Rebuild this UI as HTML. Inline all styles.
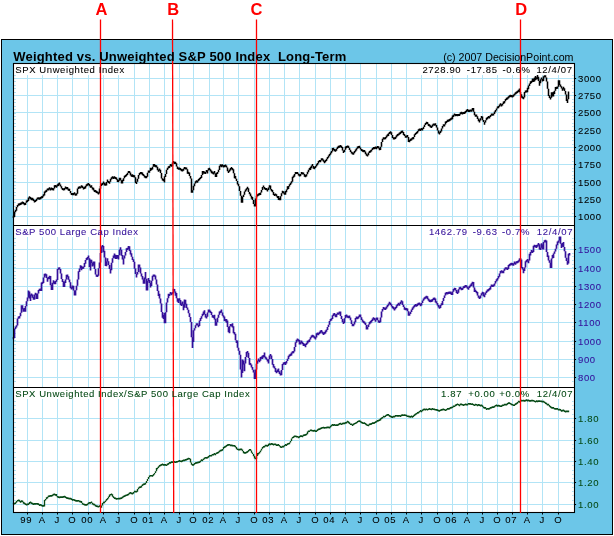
<!DOCTYPE html>
<html><head><meta charset="utf-8"><title>Weighted vs. Unweighted S&amp;P 500 Index Long-Term</title>
<style>
html,body{margin:0;padding:0;background:#fff;}
body{width:614px;height:536px;overflow:hidden;}
svg{display:block;will-change:transform;font-family:"Liberation Sans",Arial,sans-serif;}
.t{font-size:9.5px;letter-spacing:0.65px;stroke-width:0.08px;}
</style></head><body>
<svg width="614" height="536" viewBox="0 0 614 536">
<rect x="0" y="0" width="614" height="536" fill="#fff"/>
<rect x="1.5" y="39.5" width="611" height="495" fill="#6cc6e8" stroke="#000" stroke-width="1"/>
<rect x="13.5" y="63.5" width="561.0" height="449.0" fill="#fff"/>

<path d="M27.5 63.5V512.5M42.5 63.5V512.5M57.5 63.5V512.5M72.5 63.5V512.5M88.5 63.5V512.5M103.5 63.5V512.5M118.5 63.5V512.5M134.5 63.5V512.5M149.5 63.5V512.5M164.5 63.5V512.5M179.5 63.5V512.5M193.5 63.5V512.5M209.5 63.5V512.5M223.5 63.5V512.5M238.5 63.5V512.5M254.5 63.5V512.5M269.5 63.5V512.5M284.5 63.5V512.5M299.5 63.5V512.5M315.5 63.5V512.5M330.5 63.5V512.5M345.5 63.5V512.5M360.5 63.5V512.5M376.5 63.5V512.5M391.5 63.5V512.5M406.5 63.5V512.5M421.5 63.5V512.5M437.5 63.5V512.5M452.5 63.5V512.5M467.5 63.5V512.5M482.5 63.5V512.5M497.5 63.5V512.5M512.5 63.5V512.5M527.5 63.5V512.5M542.5 63.5V512.5M558.5 63.5V512.5M13.5 78.5H574.5M13.5 95.5H574.5M13.5 112.5H574.5M13.5 130.5H574.5M13.5 147.5H574.5M13.5 164.5H574.5M13.5 182.5H574.5M13.5 199.5H574.5M13.5 216.5H574.5M13.5 249.5H574.5M13.5 268.5H574.5M13.5 286.5H574.5M13.5 304.5H574.5M13.5 322.5H574.5M13.5 341.5H574.5M13.5 359.5H574.5M13.5 377.5H574.5M13.5 418.5H574.5M13.5 440.5H574.5M13.5 461.5H574.5M13.5 482.5H574.5M13.5 504.5H574.5" stroke="#b2e4f6" stroke-width="1" fill="none"/>
<path d="M14.0 68.5h2M572.0 68.5h1.6M14.0 71.5h2M572.0 71.5h1.6M14.0 75.5h2M572.0 75.5h1.6M14.0 78.5h2M572.0 78.5h1.6M14.0 81.5h2M572.0 81.5h1.6M14.0 85.5h2M572.0 85.5h1.6M14.0 88.5h2M572.0 88.5h1.6M14.0 92.5h2M572.0 92.5h1.6M14.0 95.5h2M572.0 95.5h1.6M14.0 99.5h2M572.0 99.5h1.6M14.0 102.5h2M572.0 102.5h1.6M14.0 106.5h2M572.0 106.5h1.6M14.0 109.5h2M572.0 109.5h1.6M14.0 113.5h2M572.0 113.5h1.6M14.0 116.5h2M572.0 116.5h1.6M14.0 119.5h2M572.0 119.5h1.6M14.0 123.5h2M572.0 123.5h1.6M14.0 126.5h2M572.0 126.5h1.6M14.0 130.5h2M572.0 130.5h1.6M14.0 133.5h2M572.0 133.5h1.6M14.0 137.5h2M572.0 137.5h1.6M14.0 140.5h2M572.0 140.5h1.6M14.0 144.5h2M572.0 144.5h1.6M14.0 147.5h2M572.0 147.5h1.6M14.0 150.5h2M572.0 150.5h1.6M14.0 154.5h2M572.0 154.5h1.6M14.0 157.5h2M572.0 157.5h1.6M14.0 161.5h2M572.0 161.5h1.6M14.0 164.5h2M572.0 164.5h1.6M14.0 168.5h2M572.0 168.5h1.6M14.0 171.5h2M572.0 171.5h1.6M14.0 175.5h2M572.0 175.5h1.6M14.0 178.5h2M572.0 178.5h1.6M14.0 181.5h2M572.0 181.5h1.6M14.0 185.5h2M572.0 185.5h1.6M14.0 188.5h2M572.0 188.5h1.6M14.0 192.5h2M572.0 192.5h1.6M14.0 195.5h2M572.0 195.5h1.6M14.0 199.5h2M572.0 199.5h1.6M14.0 202.5h2M572.0 202.5h1.6M14.0 206.5h2M572.0 206.5h1.6M14.0 209.5h2M572.0 209.5h1.6M14.0 213.5h2M572.0 213.5h1.6M14.0 216.5h2M572.0 216.5h1.6M14.0 227.5h2M572.0 227.5h1.6M14.0 231.5h2M572.0 231.5h1.6M14.0 234.5h2M572.0 234.5h1.6M14.0 238.5h2M572.0 238.5h1.6M14.0 242.5h2M572.0 242.5h1.6M14.0 245.5h2M572.0 245.5h1.6M14.0 249.5h2M572.0 249.5h1.6M14.0 253.5h2M572.0 253.5h1.6M14.0 256.5h2M572.0 256.5h1.6M14.0 260.5h2M572.0 260.5h1.6M14.0 264.5h2M572.0 264.5h1.6M14.0 267.5h2M572.0 267.5h1.6M14.0 271.5h2M572.0 271.5h1.6M14.0 275.5h2M572.0 275.5h1.6M14.0 278.5h2M572.0 278.5h1.6M14.0 282.5h2M572.0 282.5h1.6M14.0 286.5h2M572.0 286.5h1.6M14.0 289.5h2M572.0 289.5h1.6M14.0 293.5h2M572.0 293.5h1.6M14.0 297.5h2M572.0 297.5h1.6M14.0 300.5h2M572.0 300.5h1.6M14.0 304.5h2M572.0 304.5h1.6M14.0 308.5h2M572.0 308.5h1.6M14.0 311.5h2M572.0 311.5h1.6M14.0 315.5h2M572.0 315.5h1.6M14.0 318.5h2M572.0 318.5h1.6M14.0 322.5h2M572.0 322.5h1.6M14.0 326.5h2M572.0 326.5h1.6M14.0 329.5h2M572.0 329.5h1.6M14.0 333.5h2M572.0 333.5h1.6M14.0 337.5h2M572.0 337.5h1.6M14.0 340.5h2M572.0 340.5h1.6M14.0 344.5h2M572.0 344.5h1.6M14.0 348.5h2M572.0 348.5h1.6M14.0 351.5h2M572.0 351.5h1.6M14.0 355.5h2M572.0 355.5h1.6M14.0 359.5h2M572.0 359.5h1.6M14.0 362.5h2M572.0 362.5h1.6M14.0 366.5h2M572.0 366.5h1.6M14.0 370.5h2M572.0 370.5h1.6M14.0 373.5h2M572.0 373.5h1.6M14.0 377.5h2M572.0 377.5h1.6M14.0 381.5h2M572.0 381.5h1.6M14.0 392.5h2M572.0 392.5h1.6M14.0 396.5h2M572.0 396.5h1.6M14.0 401.5h2M572.0 401.5h1.6M14.0 405.5h2M572.0 405.5h1.6M14.0 409.5h2M572.0 409.5h1.6M14.0 414.5h2M572.0 414.5h1.6M14.0 418.5h2M572.0 418.5h1.6M14.0 422.5h2M572.0 422.5h1.6M14.0 427.5h2M572.0 427.5h1.6M14.0 431.5h2M572.0 431.5h1.6M14.0 435.5h2M572.0 435.5h1.6M14.0 440.5h2M572.0 440.5h1.6M14.0 444.5h2M572.0 444.5h1.6M14.0 448.5h2M572.0 448.5h1.6M14.0 452.5h2M572.0 452.5h1.6M14.0 457.5h2M572.0 457.5h1.6M14.0 461.5h2M572.0 461.5h1.6M14.0 465.5h2M572.0 465.5h1.6M14.0 470.5h2M572.0 470.5h1.6M14.0 474.5h2M572.0 474.5h1.6M14.0 478.5h2M572.0 478.5h1.6M14.0 483.5h2M572.0 483.5h1.6M14.0 487.5h2M572.0 487.5h1.6M14.0 491.5h2M572.0 491.5h1.6M14.0 495.5h2M572.0 495.5h1.6M14.0 500.5h2M572.0 500.5h1.6" stroke="#b2e4f6" stroke-width="1" fill="none"/>
<rect x="14" y="64" width="113" height="11" fill="#fff"/>
<rect x="421" y="64" width="153" height="11" fill="#fff"/>
<rect x="14" y="226" width="126" height="11" fill="#fff"/>
<rect x="429" y="226" width="145" height="11" fill="#fff"/>
<rect x="14" y="388" width="239" height="11" fill="#fff"/>
<rect x="440" y="388" width="134" height="11" fill="#fff"/>
<path d="M13.5 215.8V218.0M14.5 211.5V216.9M15.5 210.0V212.2M16.5 206.9V210.7M17.5 205.1V207.3M18.5 203.6V205.8M19.5 203.2V205.4M20.5 202.8V205.0M21.5 202.3V204.5M22.5 201.5V203.7M23.5 202.1V204.3M24.5 203.0V205.2M25.5 202.7V205.0M26.5 200.5V202.7M27.5 199.8V202.0M28.5 197.5V201.1M29.5 196.2V198.4M30.5 197.1V199.3M31.5 197.7V200.3M32.5 197.7V200.3M33.5 198.7V200.9M34.5 200.3V202.5M35.5 199.9V202.1M36.5 198.8V201.0M37.5 197.4V199.6M38.5 197.2V199.4M39.5 197.6V199.8M40.5 197.0V199.2M41.5 196.3V198.5M42.5 195.7V197.9M43.5 194.2V196.4M44.5 191.5V195.5M45.5 190.5V192.7M46.5 189.7V191.9M47.5 188.4V190.6M48.5 188.2V190.4M49.5 187.2V189.4M50.5 188.2V190.4M51.5 187.6V189.8M52.5 188.0V190.2M53.5 188.2V190.4M54.5 185.3V188.4M55.5 184.9V187.1M56.5 185.5V187.7M57.5 184.3V186.5M58.5 183.3V185.9M59.5 182.6V184.8M60.5 184.4V186.6M61.5 186.2V188.4M62.5 187.9V190.1M63.5 188.4V190.6M64.5 187.9V190.2M65.5 186.5V188.7M66.5 187.0V189.2M67.5 187.0V189.5M68.5 188.5V190.7M69.5 188.7V191.1M70.5 191.0V193.2M71.5 192.9V195.1M72.5 193.0V195.2M73.5 192.9V195.2M74.5 192.3V194.5M75.5 193.5V195.7M76.5 193.2V195.4M77.5 188.5V193.8M78.5 186.8V189.0M79.5 186.2V188.4M80.5 186.4V188.6M81.5 185.2V187.4M82.5 185.7V188.0M83.5 187.2V189.4M84.5 186.7V188.9M85.5 185.8V188.5M86.5 184.2V186.4M87.5 183.5V185.7M88.5 182.9V185.1M89.5 184.0V186.2M90.5 185.5V187.7M91.5 185.2V187.8M92.5 187.2V189.4M93.5 187.7V190.6M94.5 189.7V191.9M95.5 190.1V192.3M96.5 190.7V192.9M97.5 191.4V193.6M98.5 192.3V194.5M99.5 188.6V193.5M100.5 186.1V188.8M101.5 183.6V186.1M102.5 182.9V185.1M103.5 181.5V183.7M104.5 182.7V185.5M105.5 183.5V185.7M106.5 181.9V185.6M107.5 179.4V181.9M108.5 180.9V183.1M109.5 181.5V183.7M110.5 178.7V181.8M111.5 177.3V179.5M112.5 176.2V178.4M113.5 176.8V179.0M114.5 176.3V178.5M115.5 176.9V179.1M116.5 177.4V179.8M117.5 179.2V181.9M118.5 180.0V182.2M119.5 177.7V180.7M120.5 177.7V180.2M121.5 180.2V183.5M122.5 179.8V183.5M123.5 178.3V180.9M124.5 175.8V178.3M125.5 174.9V177.1M126.5 174.1V176.3M127.5 172.7V174.9M128.5 170.9V173.1M129.5 170.9V173.3M130.5 172.6V175.4M131.5 174.6V176.8M132.5 174.2V176.9M133.5 175.1V177.3M134.5 175.2V177.4M135.5 177.3V182.9M136.5 181.8V184.0M137.5 178.7V181.8M138.5 175.1V178.7M139.5 173.1V175.3M140.5 171.9V174.1M141.5 172.0V174.2M142.5 172.6V175.3M143.5 173.9V176.1M144.5 175.2V177.4M145.5 176.1V178.3M146.5 176.0V178.2M147.5 172.8V176.7M148.5 170.6V172.8M149.5 170.5V172.7M150.5 167.7V171.1M151.5 168.0V170.2M152.5 166.8V169.4M153.5 164.1V166.8M154.5 164.1V166.7M155.5 165.0V167.2M156.5 165.2V167.4M157.5 166.7V170.2M158.5 169.5V171.7M159.5 168.6V170.8M160.5 169.7V173.0M161.5 173.0V178.5M162.5 178.3V180.5M163.5 179.0V181.3M164.5 176.3V182.6M165.5 174.0V177.0M166.5 169.7V174.0M167.5 167.8V170.0M168.5 166.2V168.4M169.5 165.8V168.0M170.5 164.0V166.2M171.5 164.5V166.7M172.5 162.4V166.2M173.5 161.0V163.2M174.5 161.7V163.9M175.5 161.7V163.9M176.5 163.2V166.6M177.5 166.6V169.1M178.5 167.6V169.8M179.5 167.6V169.8M180.5 168.1V170.3M181.5 169.1V171.3M182.5 169.3V171.5M183.5 168.4V170.8M184.5 166.9V169.1M185.5 167.2V169.5M186.5 167.4V169.6M187.5 169.2V173.7M188.5 171.8V174.0M189.5 172.6V176.1M190.5 176.1V178.5M191.5 178.5V192.8M192.5 190.3V192.8M193.5 185.8V190.3M194.5 183.4V186.2M195.5 181.2V183.4M196.5 180.3V182.5M197.5 180.5V182.7M198.5 179.0V181.2M199.5 178.1V180.3M200.5 176.9V179.1M201.5 175.0V178.0M202.5 171.0V175.0M203.5 171.0V173.8M204.5 171.6V173.8M205.5 171.9V174.1M206.5 170.0V172.3M207.5 170.2V173.4M208.5 168.3V170.5M209.5 167.7V169.9M210.5 169.2V171.4M211.5 170.6V173.2M212.5 171.6V173.8M213.5 172.2V174.4M214.5 171.0V173.6M215.5 173.6V176.9M216.5 172.7V176.9M217.5 171.9V174.1M218.5 169.7V172.3M219.5 165.8V169.9M220.5 164.3V166.5M221.5 164.6V167.2M222.5 164.3V166.5M223.5 165.3V167.5M224.5 165.0V167.2M225.5 164.5V166.7M226.5 165.4V167.6M227.5 167.5V171.2M228.5 170.7V172.9M229.5 169.5V171.8M230.5 168.0V170.4M231.5 167.0V169.2M232.5 168.1V170.3M233.5 169.2V173.2M234.5 173.2V178.3M235.5 176.0V178.8M236.5 178.7V181.1M237.5 181.1V184.6M238.5 183.7V186.3M239.5 186.3V191.1M240.5 191.1V195.8M241.5 195.8V202.8M242.5 196.8V202.8M243.5 194.7V196.9M244.5 191.4V194.8M245.5 189.6V191.8M246.5 188.2V190.4M247.5 186.8V189.0M248.5 188.2V192.1M249.5 192.0V194.2M250.5 193.6V196.3M251.5 195.8V198.8M252.5 197.1V199.9M253.5 199.9V204.1M254.5 203.9V206.5M255.5 198.5V206.5M256.5 195.7V198.5M257.5 194.2V196.5M258.5 193.6V195.8M259.5 192.9V195.2M260.5 192.5V195.0M261.5 189.9V192.5M262.5 187.0V189.9M263.5 185.4V187.6M264.5 187.1V189.3M265.5 187.9V190.1M266.5 188.1V190.3M267.5 189.2V191.4M268.5 187.6V190.0M269.5 185.3V187.6M270.5 185.6V189.4M271.5 189.0V191.2M272.5 190.1V192.3M273.5 191.9V194.9M274.5 193.9V196.1M275.5 193.4V195.6M276.5 194.3V196.5M277.5 195.9V198.1M278.5 196.0V199.9M279.5 198.0V200.3M280.5 196.3V200.3M281.5 193.2V196.3M282.5 190.8V193.2M283.5 191.2V193.4M284.5 192.6V194.8M285.5 191.0V194.8M286.5 189.4V192.3M287.5 186.3V189.7M288.5 186.1V189.0M289.5 184.2V186.4M290.5 182.7V184.9M291.5 181.3V183.5M292.5 176.7V181.8M293.5 175.5V177.7M294.5 174.1V176.7M295.5 172.1V174.3M296.5 171.9V174.1M297.5 171.9V174.1M298.5 173.4V175.6M299.5 174.2V176.4M300.5 174.1V176.3M301.5 172.0V174.2M302.5 172.3V174.5M303.5 172.4V174.6M304.5 174.0V176.7M305.5 175.0V177.2M306.5 174.2V176.4M307.5 171.8V174.2M308.5 169.8V172.2M309.5 168.1V170.3M310.5 166.8V169.9M311.5 165.6V168.2M312.5 164.1V166.3M313.5 165.9V168.7M314.5 167.1V169.3M315.5 165.9V168.1M316.5 164.3V166.5M317.5 163.0V165.2M318.5 160.9V163.5M319.5 159.9V162.1M320.5 160.0V162.2M321.5 158.2V160.4M322.5 158.3V160.5M323.5 159.6V161.8M324.5 161.0V163.2M325.5 160.0V162.2M326.5 158.7V160.9M327.5 157.1V159.3M328.5 155.5V157.7M329.5 153.9V156.3M330.5 152.6V154.8M331.5 151.0V153.2M332.5 147.9V151.5M333.5 147.7V149.9M334.5 149.0V151.2M335.5 149.6V151.8M336.5 148.6V150.8M337.5 146.8V149.0M338.5 145.7V147.9M339.5 145.5V147.7M340.5 144.9V147.1M341.5 145.7V147.9M342.5 146.9V150.6M343.5 150.6V153.0M344.5 149.7V151.9M345.5 146.5V149.8M346.5 146.0V148.2M347.5 145.4V147.6M348.5 145.8V148.0M349.5 147.8V150.1M350.5 149.8V152.0M351.5 151.4V153.6M352.5 152.3V154.5M353.5 152.5V154.7M354.5 151.1V153.3M355.5 149.5V151.7M356.5 148.3V150.5M357.5 146.6V148.8M358.5 146.0V148.2M359.5 145.8V148.0M360.5 147.4V149.6M361.5 148.9V151.1M362.5 149.6V151.8M363.5 150.0V152.2M364.5 150.1V152.3M365.5 151.6V154.2M366.5 153.6V155.8M367.5 154.4V156.6M368.5 152.5V155.3M369.5 150.9V153.1M370.5 150.2V152.4M371.5 149.4V151.6M372.5 147.9V150.1M373.5 147.0V149.2M374.5 147.0V149.2M375.5 146.6V148.8M376.5 147.1V149.3M377.5 145.9V148.1M378.5 146.3V148.5M379.5 147.9V150.3M380.5 146.7V149.9M381.5 142.1V146.7M382.5 138.7V142.1M383.5 137.2V139.4M384.5 137.4V139.6M385.5 137.0V139.2M386.5 135.6V137.8M387.5 134.2V136.4M388.5 133.3V135.9M389.5 131.9V134.1M390.5 131.3V133.5M391.5 132.3V134.9M392.5 134.9V137.9M393.5 137.3V139.5M394.5 137.3V139.5M395.5 136.8V139.0M396.5 135.3V137.6M397.5 134.0V136.2M398.5 133.4V135.6M399.5 132.6V134.8M400.5 131.8V134.0M401.5 130.7V132.9M402.5 130.5V132.7M403.5 132.1V134.9M404.5 133.9V136.1M405.5 135.5V137.7M406.5 135.5V137.7M407.5 135.0V137.2M408.5 136.9V142.1M409.5 140.0V142.2M410.5 138.8V141.0M411.5 138.2V140.4M412.5 137.2V139.4M413.5 136.9V139.2M414.5 134.2V136.9M415.5 132.9V135.1M416.5 131.9V134.1M417.5 131.0V133.2M418.5 129.3V131.5M419.5 128.5V130.7M420.5 128.8V131.0M421.5 128.1V130.3M422.5 128.2V130.4M423.5 126.8V129.0M424.5 124.7V127.0M425.5 122.9V125.1M426.5 121.7V123.9M427.5 122.1V124.3M428.5 123.7V125.9M429.5 124.2V126.4M430.5 125.3V127.5M431.5 125.9V128.1M432.5 124.5V126.7M433.5 123.4V125.6M434.5 123.5V125.7M435.5 123.2V125.4M436.5 125.0V127.5M437.5 127.5V130.6M438.5 130.6V133.6M439.5 132.3V134.5M440.5 130.8V133.0M441.5 128.6V131.6M442.5 125.9V128.6M443.5 124.3V126.5M444.5 124.2V126.4M445.5 121.4V124.6M446.5 120.9V123.1M447.5 119.7V121.9M448.5 119.5V121.7M449.5 119.1V121.3M450.5 118.2V120.4M451.5 117.6V119.8M452.5 115.4V119.3M453.5 114.8V117.0M454.5 113.4V115.6M455.5 114.0V116.2M456.5 113.9V116.1M457.5 114.0V116.2M458.5 113.9V116.1M459.5 113.7V115.9M460.5 112.2V114.6M461.5 111.7V113.9M462.5 112.3V114.5M463.5 111.9V114.1M464.5 111.7V113.9M465.5 111.1V113.3M466.5 109.7V111.9M467.5 109.0V111.2M468.5 109.8V112.0M469.5 109.7V111.9M470.5 109.4V111.6M471.5 109.5V111.7M472.5 108.1V110.4M473.5 108.0V111.8M474.5 111.8V115.3M475.5 114.5V116.7M476.5 114.5V116.7M477.5 116.2V119.0M478.5 118.6V121.3M479.5 119.7V122.6M480.5 118.2V120.4M481.5 116.0V118.3M482.5 116.4V120.2M483.5 119.9V122.1M484.5 122.0V124.8M485.5 120.2V122.6M486.5 117.8V120.2M487.5 117.1V119.3M488.5 116.1V118.3M489.5 116.2V118.4M490.5 114.9V117.1M491.5 113.6V115.8M492.5 113.6V115.8M493.5 113.4V115.6M494.5 111.6V114.1M495.5 110.0V112.2M496.5 108.4V110.6M497.5 106.4V108.6M498.5 106.0V108.2M499.5 104.5V106.7M500.5 103.2V105.4M501.5 104.3V106.5M502.5 103.4V105.6M503.5 101.5V103.9M504.5 101.0V103.2M505.5 99.1V101.3M506.5 97.8V100.0M507.5 97.2V99.4M508.5 96.3V98.5M509.5 95.2V97.4M510.5 94.7V96.9M511.5 95.1V97.3M512.5 95.2V97.4M513.5 94.5V96.7M514.5 93.4V95.6M515.5 92.3V94.5M516.5 91.6V93.8M517.5 90.8V93.0M518.5 89.7V91.9M519.5 88.4V92.2M520.5 92.1V94.3M521.5 94.2V97.8M522.5 96.2V98.5M523.5 97.1V99.3M524.5 91.9V97.4M525.5 90.6V92.8M526.5 90.3V92.5M527.5 87.8V92.2M528.5 85.5V89.3M529.5 83.4V85.9M530.5 81.3V84.0M531.5 80.7V82.9M532.5 78.6V81.9M533.5 78.6V82.0M534.5 77.6V81.6M535.5 76.0V80.2M536.5 77.2V79.4M537.5 75.0V79.3M538.5 76.8V81.1M539.5 81.1V85.8M540.5 79.2V83.2M541.5 77.4V79.6M542.5 79.0V81.4M543.5 76.2V81.0M544.5 75.3V77.5M545.5 75.3V77.5M546.5 77.4V81.6M547.5 81.6V88.7M548.5 88.7V96.0M549.5 95.3V97.9M550.5 97.2V99.4M551.5 92.2V97.8M552.5 92.2V96.4M553.5 91.7V96.4M554.5 90.8V93.9M555.5 87.1V90.8M556.5 86.8V89.0M557.5 86.5V88.7M558.5 80.3V86.8M559.5 80.3V85.1M560.5 84.5V86.7M561.5 86.3V88.6M562.5 88.3V90.8M563.5 86.8V89.6M564.5 88.2V91.0M565.5 91.0V94.4M566.5 94.4V101.0M567.5 99.2V103.0M568.5 91.4V99.2" stroke="#000" stroke-width="1.55" fill="none"/>
<path d="M13.5 336.9V339.2M14.5 328.5V338.0M15.5 326.7V329.0M16.5 325.3V327.6M17.5 318.6V325.6M18.5 316.5V318.8M19.5 316.1V318.4M20.5 312.7V316.3M21.5 305.2V312.8M22.5 305.2V309.2M23.5 308.5V311.7M24.5 308.0V311.8M25.5 306.1V311.8M26.5 301.2V306.3M27.5 297.5V301.2M28.5 290.4V297.5M29.5 291.4V298.5M30.5 294.8V301.0M31.5 293.5V295.8M32.5 294.5V297.7M33.5 296.9V299.7M34.5 294.6V299.7M35.5 292.7V295.0M36.5 293.6V299.1M37.5 293.5V299.1M38.5 289.9V293.6M39.5 288.8V291.1M40.5 288.6V291.1M41.5 282.4V291.1M42.5 281.8V284.1M43.5 277.6V283.0M44.5 273.8V277.6M45.5 273.5V275.8M46.5 274.3V277.9M47.5 277.9V281.8M48.5 276.9V279.2M49.5 275.7V279.1M50.5 276.1V285.3M51.5 284.8V289.9M52.5 282.7V289.9M53.5 280.3V283.6M54.5 281.6V284.3M55.5 281.1V284.3M56.5 279.4V281.7M57.5 269.0V280.0M58.5 267.4V269.7M59.5 267.3V269.6M60.5 268.9V273.5M61.5 273.5V278.9M62.5 278.9V282.0M63.5 281.2V286.9M64.5 281.4V286.9M65.5 279.4V282.9M66.5 274.7V279.4M67.5 274.6V276.9M68.5 276.3V279.8M69.5 279.4V282.3M70.5 282.3V288.2M71.5 287.3V289.6M72.5 285.5V288.4M73.5 285.7V290.5M74.5 290.5V295.6M75.5 290.3V295.6M76.5 285.7V290.3M77.5 279.4V285.7M78.5 271.2V279.4M79.5 268.5V272.0M80.5 265.3V268.5M81.5 265.7V270.2M82.5 266.7V269.0M83.5 266.5V268.8M84.5 263.1V267.1M85.5 260.0V263.7M86.5 258.0V260.3M87.5 256.9V259.8M88.5 255.4V258.3M89.5 258.3V266.9M90.5 259.5V270.4M91.5 259.7V263.1M92.5 262.7V266.4M93.5 261.4V265.6M94.5 261.4V269.1M95.5 269.1V274.5M96.5 274.5V276.8M97.5 274.8V277.1M98.5 268.3V275.7M99.5 262.5V268.3M100.5 253.0V262.5M101.5 246.3V253.0M102.5 245.0V247.3M103.5 246.1V252.2M104.5 250.8V257.4M105.5 257.4V266.0M106.5 261.4V266.3M107.5 258.3V261.4M108.5 261.2V264.9M109.5 264.9V269.1M110.5 269.1V273.6M111.5 262.7V270.2M112.5 258.2V262.7M113.5 255.6V258.2M114.5 253.6V257.7M115.5 254.7V258.9M116.5 255.1V258.9M117.5 255.1V258.3M118.5 255.3V259.5M119.5 249.5V255.3M120.5 247.2V250.3M121.5 249.7V255.7M122.5 255.0V259.6M123.5 258.4V264.4M124.5 255.4V258.4M125.5 251.9V255.4M126.5 248.2V251.9M127.5 247.8V250.1M128.5 246.0V249.1M129.5 246.3V251.0M130.5 250.2V254.4M131.5 253.2V256.8M132.5 256.8V260.0M133.5 259.2V261.9M134.5 261.7V268.7M135.5 268.6V274.0M136.5 274.0V277.6M137.5 272.1V274.4M138.5 264.5V272.1M139.5 264.5V267.6M140.5 267.6V273.6M141.5 273.4V276.4M142.5 275.9V279.5M143.5 279.5V283.8M144.5 277.6V283.8M145.5 272.0V278.7M146.5 278.7V290.6M147.5 281.1V290.6M148.5 278.0V281.3M149.5 279.9V283.1M150.5 283.0V287.5M151.5 280.7V286.0M152.5 275.7V280.7M153.5 274.5V276.8M154.5 274.5V276.8M155.5 275.4V279.6M156.5 279.4V284.6M157.5 284.6V290.9M158.5 290.7V296.0M159.5 293.7V298.5M160.5 298.5V303.6M161.5 303.6V312.1M162.5 312.1V317.8M163.5 315.1V318.9M164.5 313.0V323.2M165.5 312.3V323.2M166.5 302.5V312.3M167.5 298.2V302.5M168.5 293.8V298.2M169.5 293.7V296.0M170.5 292.0V294.3M171.5 292.9V295.2M172.5 292.0V294.3M173.5 288.8V293.3M174.5 289.1V291.5M175.5 291.5V295.7M176.5 293.1V298.3M177.5 298.3V301.8M178.5 298.6V302.9M179.5 298.2V300.5M180.5 300.0V304.9M181.5 303.6V305.9M182.5 301.4V304.6M183.5 304.3V310.3M184.5 299.4V307.7M185.5 299.7V304.6M186.5 303.7V308.1M187.5 307.5V309.8M188.5 309.7V313.3M189.5 313.3V317.1M190.5 317.1V321.9M191.5 321.9V337.3M192.5 337.3V348.0M193.5 330.2V342.1M194.5 328.2V330.6M195.5 325.3V328.2M196.5 323.3V325.6M197.5 323.3V325.6M198.5 324.9V327.2M199.5 320.4V325.9M200.5 318.1V321.1M201.5 316.2V318.7M202.5 313.7V316.3M203.5 311.4V315.1M204.5 310.3V313.9M205.5 313.9V317.6M206.5 316.3V318.6M207.5 312.6V316.8M208.5 309.6V312.6M209.5 309.6V311.9M210.5 310.7V313.0M211.5 312.0V314.9M212.5 314.9V317.4M213.5 315.6V317.9M214.5 314.7V319.4M215.5 318.8V325.7M216.5 322.2V325.7M217.5 317.8V322.2M218.5 314.8V317.8M219.5 311.6V314.8M220.5 310.8V313.1M221.5 309.5V312.4M222.5 312.4V315.7M223.5 315.2V317.5M224.5 316.4V320.9M225.5 319.1V321.6M226.5 319.1V322.7M227.5 320.6V327.0M228.5 327.0V332.3M229.5 326.2V333.2M230.5 323.9V326.2M231.5 324.3V326.6M232.5 323.3V327.4M233.5 326.2V333.2M234.5 332.1V334.4M235.5 333.8V340.2M236.5 340.2V343.0M237.5 340.4V347.8M238.5 347.8V350.7M239.5 350.7V354.7M240.5 354.7V369.4M241.5 369.4V377.5M242.5 359.5V372.9M243.5 360.6V364.6M244.5 363.5V371.2M245.5 356.9V363.5M246.5 352.1V356.9M247.5 351.0V353.3M248.5 352.7V357.9M249.5 357.9V364.8M250.5 362.9V365.2M251.5 364.4V367.5M252.5 367.1V369.8M253.5 369.8V372.5M254.5 372.5V378.9M255.5 369.6V378.9M256.5 363.7V369.6M257.5 360.4V363.7M258.5 358.6V360.9M259.5 359.9V362.2M260.5 356.9V360.7M261.5 356.5V358.8M262.5 355.6V359.0M263.5 354.9V357.5M264.5 352.6V357.3M265.5 356.4V358.7M266.5 357.4V359.7M267.5 359.3V361.6M268.5 359.2V363.5M269.5 355.5V359.2M270.5 354.0V356.3M271.5 355.4V359.0M272.5 359.0V364.8M273.5 363.9V367.4M274.5 366.3V368.6M275.5 368.0V372.0M276.5 371.0V373.3M277.5 369.5V372.2M278.5 368.6V372.2M279.5 371.2V373.9M280.5 373.2V375.5M281.5 370.1V375.2M282.5 364.0V370.1M283.5 362.4V364.7M284.5 362.0V364.3M285.5 361.9V365.1M286.5 361.0V363.4M287.5 358.8V361.1M288.5 355.7V358.9M289.5 354.4V356.8M290.5 353.8V356.1M291.5 352.4V355.6M292.5 351.3V353.6M293.5 351.0V353.3M294.5 347.1V351.5M295.5 342.3V347.1M296.5 339.8V342.8M297.5 338.4V340.7M298.5 339.2V341.5M299.5 340.1V344.5M300.5 342.3V344.6M301.5 340.6V343.1M302.5 341.7V344.2M303.5 342.9V345.9M304.5 343.7V346.0M305.5 344.1V347.2M306.5 342.8V345.1M307.5 340.8V343.7M308.5 340.3V342.6M309.5 339.3V342.0M310.5 337.3V339.6M311.5 335.5V337.8M312.5 334.8V337.1M313.5 335.3V337.6M314.5 336.3V338.6M315.5 337.1V339.4M316.5 333.3V337.6M317.5 332.6V334.9M318.5 333.0V335.3M319.5 331.8V334.1M320.5 330.4V333.2M321.5 329.9V332.2M322.5 331.4V333.7M323.5 332.6V334.9M324.5 332.0V334.3M325.5 330.6V333.6M326.5 329.5V331.8M327.5 327.0V330.0M328.5 324.7V327.0M329.5 320.9V324.8M330.5 319.0V321.3M331.5 318.3V320.6M332.5 315.2V318.9M333.5 313.6V315.9M334.5 312.9V315.2M335.5 314.5V317.2M336.5 313.9V317.2M337.5 312.4V314.7M338.5 312.5V314.8M339.5 311.4V313.7M340.5 311.5V315.9M341.5 315.9V319.1M342.5 319.1V322.2M343.5 321.6V323.9M344.5 318.3V323.0M345.5 314.9V318.3M346.5 314.4V316.7M347.5 315.4V317.7M348.5 315.9V318.2M349.5 315.6V317.9M350.5 317.6V320.2M351.5 320.2V324.0M352.5 323.7V326.2M353.5 324.0V326.3M354.5 321.6V324.4M355.5 318.0V322.3M356.5 316.6V318.9M357.5 316.9V319.2M358.5 316.2V318.5M359.5 314.6V316.9M360.5 314.5V317.3M361.5 317.3V320.0M362.5 319.5V321.8M363.5 320.7V323.0M364.5 321.4V323.7M365.5 322.7V325.0M366.5 324.9V329.4M367.5 327.0V329.4M368.5 324.6V327.0M369.5 322.1V324.6M370.5 321.1V323.4M371.5 320.1V322.4M372.5 318.6V320.9M373.5 317.2V319.5M374.5 318.0V320.3M375.5 319.4V321.7M376.5 317.5V319.8M377.5 317.6V320.2M378.5 320.2V322.5M379.5 320.7V323.0M380.5 317.4V322.3M381.5 311.6V317.4M382.5 309.0V311.6M383.5 306.9V309.2M384.5 307.4V309.7M385.5 307.6V309.9M386.5 306.4V308.7M387.5 305.0V307.3M388.5 303.4V305.7M389.5 301.8V304.1M390.5 302.8V305.1M391.5 304.2V306.5M392.5 305.9V308.2M393.5 306.7V309.2M394.5 308.2V310.5M395.5 306.9V309.2M396.5 305.3V308.0M397.5 303.9V306.2M398.5 302.8V305.1M399.5 303.4V305.8M400.5 301.8V304.1M401.5 300.3V302.6M402.5 301.3V305.0M403.5 304.8V307.1M404.5 306.7V309.7M405.5 308.0V310.3M406.5 307.9V310.2M407.5 308.5V311.3M408.5 311.3V315.7M409.5 313.5V315.8M410.5 311.7V314.1M411.5 309.6V311.9M412.5 307.6V309.9M413.5 306.2V308.5M414.5 305.0V307.3M415.5 303.9V306.2M416.5 304.4V306.7M417.5 303.6V305.9M418.5 302.8V305.1M419.5 302.4V304.7M420.5 304.0V306.3M421.5 302.9V305.6M422.5 300.4V302.9M423.5 298.4V300.7M424.5 297.3V299.6M425.5 296.4V298.7M426.5 295.8V298.1M427.5 296.2V299.3M428.5 298.5V300.8M429.5 299.4V301.9M430.5 299.9V302.2M431.5 299.6V301.9M432.5 299.1V301.4M433.5 297.7V300.0M434.5 297.6V299.9M435.5 298.5V302.4M436.5 301.2V303.5M437.5 303.1V305.4M438.5 305.1V307.4M439.5 306.5V308.8M440.5 305.1V307.9M441.5 303.3V305.6M442.5 301.1V304.9M443.5 298.0V301.1M444.5 295.4V298.0M445.5 292.8V295.4M446.5 292.0V294.3M447.5 292.2V294.5M448.5 291.7V294.0M449.5 291.4V293.7M450.5 291.6V293.9M451.5 292.5V294.9M452.5 291.5V294.9M453.5 289.0V291.7M454.5 287.7V290.0M455.5 288.1V290.4M456.5 289.9V293.1M457.5 291.7V294.0M458.5 289.3V292.8M459.5 287.3V289.6M460.5 286.8V289.1M461.5 288.0V290.3M462.5 287.7V290.0M463.5 286.2V288.5M464.5 285.8V288.1M465.5 284.9V287.2M466.5 285.3V287.6M467.5 286.4V288.7M468.5 287.4V289.7M469.5 285.7V288.0M470.5 284.5V286.8M471.5 283.2V285.9M472.5 281.7V284.3M473.5 282.1V287.5M474.5 287.5V292.0M475.5 289.7V292.0M476.5 291.0V293.3M477.5 292.0V295.4M478.5 295.4V297.8M479.5 296.7V299.0M480.5 295.4V298.2M481.5 293.2V295.5M482.5 291.8V294.1M483.5 292.3V296.3M484.5 294.5V297.2M485.5 292.5V294.8M486.5 290.7V293.0M487.5 289.5V291.8M488.5 288.9V291.2M489.5 287.9V290.2M490.5 286.3V289.6M491.5 284.5V286.8M492.5 284.8V287.1M493.5 284.4V286.7M494.5 283.4V285.7M495.5 281.1V283.5M496.5 279.2V281.5M497.5 278.1V280.4M498.5 276.1V278.6M499.5 273.4V276.8M500.5 271.0V273.4M501.5 270.2V272.5M502.5 270.9V273.2M503.5 270.6V273.2M504.5 268.4V270.7M505.5 267.3V269.6M506.5 267.2V269.5M507.5 267.7V270.0M508.5 265.0V269.1M509.5 264.0V266.3M510.5 263.3V265.6M511.5 262.8V265.1M512.5 263.1V265.4M513.5 263.4V265.7M514.5 261.6V263.9M515.5 262.4V264.7M516.5 261.3V263.6M517.5 260.9V263.2M518.5 260.2V262.5M519.5 258.4V261.4M520.5 257.9V260.2M521.5 259.6V267.9M522.5 267.1V269.4M523.5 269.1V273.3M524.5 267.6V271.1M525.5 261.3V267.6M526.5 260.0V262.3M527.5 258.9V261.4M528.5 260.6V263.2M529.5 253.8V260.6M530.5 252.0V255.6M531.5 250.0V252.8M532.5 250.8V253.1M533.5 245.7V252.1M534.5 244.8V247.1M535.5 245.2V247.5M536.5 244.9V247.9M537.5 244.5V246.8M538.5 243.1V245.4M539.5 244.3V249.5M540.5 247.7V250.1M541.5 243.3V247.7M542.5 244.5V249.5M543.5 242.1V249.5M544.5 240.3V242.6M545.5 239.7V242.4M546.5 240.6V252.0M547.5 252.0V257.1M548.5 255.4V260.6M549.5 260.3V262.8M550.5 262.8V268.1M551.5 258.5V268.1M552.5 255.1V258.5M553.5 253.6V258.1M554.5 251.5V253.8M555.5 248.7V251.6M556.5 244.6V248.7M557.5 241.5V245.3M558.5 240.4V242.7M559.5 236.4V240.6M560.5 236.4V243.7M561.5 243.7V247.9M562.5 243.1V246.8M563.5 242.1V247.0M564.5 247.0V251.2M565.5 251.2V257.8M566.5 257.8V261.1M567.5 261.1V264.8M568.5 253.8V263.4M569.5 253.1V255.4" stroke="#34109a" stroke-width="1.7" fill="none"/>
<path d="M13.5 502.7V504.4M14.5 502.7V504.4M15.5 502.3V504.0M16.5 501.0V502.7M17.5 499.9V501.6M18.5 499.5V501.2M19.5 499.8V501.8M20.5 501.1V502.8M21.5 500.3V502.2M22.5 500.6V502.3M23.5 501.8V503.7M24.5 502.5V504.2M25.5 503.3V505.0M26.5 503.8V505.5M27.5 503.5V505.2M28.5 503.3V505.0M29.5 502.0V503.9M30.5 501.6V503.3M31.5 502.3V504.0M32.5 502.8V504.5M33.5 503.3V505.0M34.5 503.0V504.7M35.5 503.0V504.7M36.5 502.9V504.6M37.5 503.0V504.7M38.5 503.2V504.9M39.5 504.2V505.9M40.5 504.1V505.8M41.5 504.5V506.2M42.5 505.0V506.7M43.5 505.0V506.7M44.5 500.1V506.5M45.5 498.9V500.6M46.5 497.2V499.3M47.5 496.7V498.4M48.5 495.6V497.3M49.5 495.2V496.9M50.5 495.1V496.8M51.5 495.0V496.7M52.5 494.5V496.2M53.5 493.7V495.4M54.5 493.6V495.3M55.5 494.0V495.7M56.5 494.1V496.3M57.5 495.9V497.6M58.5 496.3V498.0M59.5 496.5V498.2M60.5 496.2V497.9M61.5 496.3V498.0M62.5 496.2V497.9M63.5 496.0V497.7M64.5 495.7V497.4M65.5 496.3V498.0M66.5 497.0V498.7M67.5 497.3V499.0M68.5 497.5V499.2M69.5 497.7V499.4M70.5 497.8V499.5M71.5 498.3V500.0M72.5 499.0V500.7M73.5 498.9V500.6M74.5 499.3V501.0M75.5 499.8V501.5M76.5 500.1V501.8M77.5 500.1V501.8M78.5 499.9V501.6M79.5 500.6V502.3M80.5 500.7V502.4M81.5 501.0V503.1M82.5 502.7V504.4M83.5 503.4V505.1M84.5 503.8V505.5M85.5 504.1V505.8M86.5 504.0V505.7M87.5 503.5V505.2M88.5 502.5V504.2M89.5 502.0V503.7M90.5 502.0V503.7M91.5 501.4V503.1M92.5 502.7V504.4M93.5 503.5V505.2M94.5 503.8V505.5M95.5 504.8V506.5M96.5 505.2V506.9M97.5 505.6V507.3M98.5 505.9V507.6M99.5 505.2V506.9M100.5 505.3V507.0M101.5 505.4V507.7M102.5 502.9V505.4M103.5 501.7V503.4M104.5 501.5V503.2M105.5 500.4V502.1M106.5 499.1V500.8M107.5 498.1V499.8M108.5 496.6V498.5M109.5 494.6V497.0M110.5 493.9V495.6M111.5 493.5V495.2M112.5 494.3V496.7M113.5 496.2V497.9M114.5 497.3V499.1M115.5 497.6V499.3M116.5 498.0V499.7M117.5 497.9V499.6M118.5 497.7V499.4M119.5 497.7V499.4M120.5 497.5V499.2M121.5 497.3V499.0M122.5 496.5V498.2M123.5 495.8V497.5M124.5 495.3V497.0M125.5 494.8V496.5M126.5 494.4V496.1M127.5 494.1V495.8M128.5 493.6V495.3M129.5 492.5V494.2M130.5 492.0V493.7M131.5 492.5V494.2M132.5 492.7V494.4M133.5 492.1V493.8M134.5 490.8V492.5M135.5 490.7V492.4M136.5 490.8V492.5M137.5 489.1V491.8M138.5 487.5V489.2M139.5 486.6V488.3M140.5 486.2V487.9M141.5 485.6V487.4M142.5 484.2V485.9M143.5 483.5V485.2M144.5 483.3V485.0M145.5 482.8V484.6M146.5 481.0V483.0M147.5 479.0V481.0M148.5 476.9V479.0M149.5 475.5V477.2M150.5 474.9V476.6M151.5 474.9V476.6M152.5 475.0V476.7M153.5 474.1V475.8M154.5 472.9V474.6M155.5 471.2V473.1M156.5 468.1V471.2M157.5 467.6V469.3M158.5 466.3V468.1M159.5 465.1V466.8M160.5 464.6V466.3M161.5 463.9V465.7M162.5 463.6V465.3M163.5 464.0V465.7M164.5 464.0V465.7M165.5 464.1V465.8M166.5 464.4V466.1M167.5 463.6V465.3M168.5 463.1V464.8M169.5 462.0V463.7M170.5 462.0V463.7M171.5 461.2V462.9M172.5 461.3V463.0M173.5 461.3V463.0M174.5 461.0V462.7M175.5 461.4V463.1M176.5 461.0V462.7M177.5 460.9V462.6M178.5 460.4V462.1M179.5 460.0V461.7M180.5 460.4V462.1M181.5 460.5V462.2M182.5 460.0V461.7M183.5 459.5V461.2M184.5 459.5V461.2M185.5 459.1V460.8M186.5 458.7V460.4M187.5 458.3V460.0M188.5 457.8V459.5M189.5 457.9V459.6M190.5 458.8V462.4M191.5 462.4V464.8M192.5 464.0V465.7M193.5 464.1V465.8M194.5 463.0V464.8M195.5 462.2V463.9M196.5 462.1V463.8M197.5 461.8V463.5M198.5 461.5V463.2M199.5 461.3V463.0M200.5 460.5V462.2M201.5 459.2V460.9M202.5 459.5V461.2M203.5 458.4V460.1M204.5 457.5V459.2M205.5 456.9V458.6M206.5 457.1V458.8M207.5 456.7V458.4M208.5 456.0V457.7M209.5 455.0V456.7M210.5 454.9V456.6M211.5 454.7V456.4M212.5 453.9V455.6M213.5 453.8V455.5M214.5 453.0V454.7M215.5 453.5V455.3M216.5 452.4V454.1M217.5 452.1V453.8M218.5 451.5V453.2M219.5 450.6V452.3M220.5 449.7V451.4M221.5 449.5V451.2M222.5 449.0V450.7M223.5 447.1V449.2M224.5 446.2V447.9M225.5 445.8V447.5M226.5 445.1V446.8M227.5 444.3V446.0M228.5 444.1V445.8M229.5 443.9V445.6M230.5 444.5V446.2M231.5 444.6V446.3M232.5 444.7V446.4M233.5 444.9V446.6M234.5 445.0V446.7M235.5 445.8V447.5M236.5 447.0V449.2M237.5 448.4V450.1M238.5 448.7V450.4M239.5 448.7V450.4M240.5 448.5V450.2M241.5 448.5V450.2M242.5 449.6V451.3M243.5 451.0V453.3M244.5 452.1V453.8M245.5 452.1V453.8M246.5 451.6V453.3M247.5 451.1V452.8M248.5 450.0V451.7M249.5 449.0V450.7M250.5 449.1V450.8M251.5 450.5V452.7M252.5 452.4V454.1M253.5 453.9V456.3M254.5 455.8V458.5M255.5 457.6V459.3M256.5 456.0V459.0M257.5 453.1V456.0M258.5 452.7V454.4M259.5 451.8V453.5M260.5 450.4V452.2M261.5 448.8V450.5M262.5 447.1V448.8M263.5 446.1V447.8M264.5 445.8V447.5M265.5 444.8V446.5M266.5 444.7V446.4M267.5 445.1V446.8M268.5 443.8V446.0M269.5 443.2V444.9M270.5 443.5V445.2M271.5 443.1V444.8M272.5 443.2V444.9M273.5 443.8V445.5M274.5 443.4V445.1M275.5 443.5V445.2M276.5 444.2V445.9M277.5 444.2V445.9M278.5 444.0V445.7M279.5 444.9V446.6M280.5 446.0V447.7M281.5 446.4V448.1M282.5 445.8V447.5M283.5 445.8V447.5M284.5 444.9V446.6M285.5 444.0V445.7M286.5 444.2V445.9M287.5 443.2V444.9M288.5 442.9V444.6M289.5 442.5V444.2M290.5 440.9V442.6M291.5 438.4V441.0M292.5 436.9V438.6M293.5 436.3V438.0M294.5 435.5V437.2M295.5 435.4V437.1M296.5 435.8V437.5M297.5 435.9V437.6M298.5 436.5V438.2M299.5 436.0V437.7M300.5 435.3V437.0M301.5 435.3V437.0M302.5 435.5V437.2M303.5 434.6V436.3M304.5 434.3V436.0M305.5 434.0V435.7M306.5 433.6V435.3M307.5 431.5V434.3M308.5 430.6V432.3M309.5 430.4V432.1M310.5 429.4V431.1M311.5 429.6V431.3M312.5 429.9V431.6M313.5 430.0V431.7M314.5 429.7V431.4M315.5 430.2V431.9M316.5 430.3V432.0M317.5 429.2V430.9M318.5 428.5V430.2M319.5 428.3V430.0M320.5 427.8V429.5M321.5 427.2V428.9M322.5 426.9V428.6M323.5 426.7V428.4M324.5 427.1V428.8M325.5 426.9V428.6M326.5 426.7V428.4M327.5 426.5V428.2M328.5 426.5V428.2M329.5 426.7V428.4M330.5 425.8V427.5M331.5 424.8V426.5M332.5 424.1V425.8M333.5 424.2V425.9M334.5 424.0V425.7M335.5 424.4V426.1M336.5 424.2V425.9M337.5 424.2V425.9M338.5 423.7V425.4M339.5 423.0V424.7M340.5 422.7V424.4M341.5 423.4V425.1M342.5 422.7V424.4M343.5 422.6V424.3M344.5 422.5V424.2M345.5 422.1V423.8M346.5 421.7V423.4M347.5 420.8V422.5M348.5 421.2V423.2M349.5 422.3V424.0M350.5 423.4V425.1M351.5 423.4V425.1M352.5 424.2V425.9M353.5 423.5V425.2M354.5 422.9V424.6M355.5 422.4V424.1M356.5 421.9V423.6M357.5 421.0V422.7M358.5 420.4V422.1M359.5 420.3V422.0M360.5 420.8V422.5M361.5 421.6V423.3M362.5 422.0V423.7M363.5 422.4V424.1M364.5 422.2V423.9M365.5 423.1V424.8M366.5 423.8V425.5M367.5 424.4V426.1M368.5 424.5V426.2M369.5 423.6V425.3M370.5 423.2V424.9M371.5 423.1V424.8M372.5 422.3V424.0M373.5 422.3V424.0M374.5 422.0V423.7M375.5 421.2V422.9M376.5 420.8V422.5M377.5 420.1V421.8M378.5 419.7V421.4M379.5 419.3V421.0M380.5 418.3V420.4M381.5 417.5V419.2M382.5 416.9V418.6M383.5 415.8V417.5M384.5 415.9V417.6M385.5 415.3V417.0M386.5 414.4V416.1M387.5 414.0V415.7M388.5 414.0V415.7M389.5 415.0V416.7M390.5 415.6V417.3M391.5 416.0V417.7M392.5 416.3V418.0M393.5 415.8V417.5M394.5 415.7V417.4M395.5 415.1V416.8M396.5 414.9V416.6M397.5 415.0V416.7M398.5 415.0V416.7M399.5 414.9V416.6M400.5 415.2V416.9M401.5 414.6V416.3M402.5 414.3V416.0M403.5 414.4V416.1M404.5 414.3V416.0M405.5 414.4V416.1M406.5 414.7V416.4M407.5 415.4V417.1M408.5 415.5V417.2M409.5 415.8V417.5M410.5 416.1V417.8M411.5 415.5V417.2M412.5 416.0V417.7M413.5 415.3V417.0M414.5 414.3V416.0M415.5 413.6V415.3M416.5 412.9V414.6M417.5 412.0V413.7M418.5 411.7V413.4M419.5 410.9V412.6M420.5 410.1V411.8M421.5 410.6V412.3M422.5 409.6V411.3M423.5 408.8V410.5M424.5 408.6V410.3M425.5 408.7V410.4M426.5 408.4V410.1M427.5 408.9V410.6M428.5 408.4V410.1M429.5 408.1V409.8M430.5 408.4V410.1M431.5 408.5V410.2M432.5 408.0V409.7M433.5 408.4V410.1M434.5 408.5V410.2M435.5 408.9V410.6M436.5 409.0V410.7M437.5 409.2V410.9M438.5 409.7V411.4M439.5 410.1V411.8M440.5 409.4V411.1M441.5 409.0V410.7M442.5 408.8V410.5M443.5 408.6V410.3M444.5 408.9V410.6M445.5 409.4V411.1M446.5 408.9V410.6M447.5 408.0V409.7M448.5 408.1V409.8M449.5 407.8V409.5M450.5 407.1V408.8M451.5 406.7V408.4M452.5 406.4V408.1M453.5 405.5V407.2M454.5 405.4V407.1M455.5 404.5V406.2M456.5 404.1V405.8M457.5 403.4V405.1M458.5 403.9V405.6M459.5 404.6V406.3M460.5 403.6V405.3M461.5 403.5V405.2M462.5 403.9V405.6M463.5 404.2V405.9M464.5 403.9V405.6M465.5 403.5V405.2M466.5 403.7V405.4M467.5 403.7V405.4M468.5 402.9V404.6M469.5 403.0V404.7M470.5 403.1V404.8M471.5 403.4V405.1M472.5 403.2V404.9M473.5 403.9V405.6M474.5 404.4V406.1M475.5 403.8V405.5M476.5 403.9V405.6M477.5 404.5V406.2M478.5 404.1V405.8M479.5 404.3V406.0M480.5 404.8V406.5M481.5 404.6V406.3M482.5 405.3V407.0M483.5 406.5V408.2M484.5 407.1V408.8M485.5 407.1V408.8M486.5 408.3V410.1M487.5 407.9V409.6M488.5 408.1V409.8M489.5 407.7V409.4M490.5 407.1V408.8M491.5 406.8V408.5M492.5 406.2V407.9M493.5 406.2V407.9M494.5 405.7V407.4M495.5 404.9V406.6M496.5 404.6V406.3M497.5 405.0V406.7M498.5 404.8V406.5M499.5 405.1V406.8M500.5 405.4V407.1M501.5 405.3V407.0M502.5 404.5V406.2M503.5 404.4V406.1M504.5 403.8V405.5M505.5 403.7V405.4M506.5 403.8V405.5M507.5 403.1V404.8M508.5 402.2V403.9M509.5 402.2V403.9M510.5 402.9V404.6M511.5 403.6V405.3M512.5 403.9V405.6M513.5 404.4V406.1M514.5 404.3V406.0M515.5 403.3V405.0M516.5 402.8V404.5M517.5 402.1V403.8M518.5 400.8V402.5M519.5 401.0V402.7M520.5 400.3V402.0M521.5 399.8V401.5M522.5 399.9V401.6M523.5 399.7V401.4M524.5 400.1V401.8M525.5 399.7V401.4M526.5 399.2V400.9M527.5 399.7V401.4M528.5 399.5V401.2M529.5 400.0V401.7M530.5 400.0V401.7M531.5 399.8V401.5M532.5 399.8V401.5M533.5 399.9V401.6M534.5 400.4V402.1M535.5 400.9V402.6M536.5 400.2V401.9M537.5 400.5V402.2M538.5 400.2V401.9M539.5 400.2V401.9M540.5 400.4V402.1M541.5 400.5V402.2M542.5 400.8V402.5M543.5 400.7V402.4M544.5 401.4V403.1M545.5 402.3V404.0M546.5 402.8V404.5M547.5 403.7V405.4M548.5 403.8V405.5M549.5 405.1V406.8M550.5 406.0V407.7M551.5 406.7V408.4M552.5 407.1V408.8M553.5 407.1V408.8M554.5 407.9V409.6M555.5 408.1V409.8M556.5 408.1V409.8M557.5 408.1V409.8M558.5 408.9V410.6M559.5 408.8V410.5M560.5 409.0V410.8M561.5 410.0V411.7M562.5 409.7V411.4M563.5 409.6V411.3M564.5 410.3V412.0M565.5 410.7V412.4M566.5 410.5V412.2M567.5 410.5V412.2M568.5 410.6V412.3" stroke="#064a16" stroke-width="1.35" fill="none"/>
<rect x="13.5" y="63.5" width="561.0" height="449.0" fill="none" stroke="#000" stroke-width="1.1"/>
<path d="M13.5 225.5H574.5M13.5 387.5H574.5" stroke="#000" stroke-width="1.1" fill="none"/>
<path d="M574.5 78.5h1.6M574.5 95.5h1.6M574.5 112.5h1.6M574.5 130.5h1.6M574.5 147.5h1.6M574.5 164.5h1.6M574.5 182.5h1.6M574.5 199.5h1.6M574.5 216.5h1.6M574.5 249.5h1.6M574.5 268.5h1.6M574.5 286.5h1.6M574.5 304.5h1.6M574.5 322.5h1.6M574.5 341.5h1.6M574.5 359.5h1.6M574.5 377.5h1.6M574.5 418.5h1.6M574.5 440.5h1.6M574.5 461.5h1.6M574.5 482.5h1.6M574.5 504.5h1.6" stroke="#000" stroke-width="1" fill="none"/>
<path d="M27.5 512.5v2M42.5 512.5v2M57.5 512.5v2M72.5 512.5v2M88.5 512.5v2M103.5 512.5v2M118.5 512.5v2M134.5 512.5v2M149.5 512.5v2M164.5 512.5v2M179.5 512.5v2M193.5 512.5v2M209.5 512.5v2M223.5 512.5v2M238.5 512.5v2M254.5 512.5v2M269.5 512.5v2M284.5 512.5v2M299.5 512.5v2M315.5 512.5v2M330.5 512.5v2M345.5 512.5v2M360.5 512.5v2M376.5 512.5v2M391.5 512.5v2M406.5 512.5v2M421.5 512.5v2M437.5 512.5v2M452.5 512.5v2M467.5 512.5v2M482.5 512.5v2M497.5 512.5v2M512.5 512.5v2M527.5 512.5v2M542.5 512.5v2M558.5 512.5v2" stroke="#000" stroke-width="1" fill="none"/>
<line x1="100.5" y1="19.5" x2="100.5" y2="513.0" stroke="#f00" stroke-width="1.3"/>
<line x1="172.5" y1="19.5" x2="173.7" y2="513.0" stroke="#f00" stroke-width="1.3"/>
<line x1="256.5" y1="19.5" x2="256.5" y2="513.0" stroke="#f00" stroke-width="1.3"/>
<line x1="520.5" y1="19.5" x2="520.5" y2="513.0" stroke="#f00" stroke-width="1.3"/>
<text x="101.4" y="15" text-anchor="middle" font-size="16.5px" font-weight="bold" fill="#f00">A</text>
<text x="173.2" y="15" text-anchor="middle" font-size="16.5px" font-weight="bold" fill="#f00">B</text>
<text x="256.5" y="15" text-anchor="middle" font-size="16.5px" font-weight="bold" fill="#f00">C</text>
<text x="521.1" y="15" text-anchor="middle" font-size="16.5px" font-weight="bold" fill="#f00">D</text>
<text id="title" x="13.3" y="60.7" font-size="13px" font-weight="bold" fill="#000" style="white-space:pre" textLength="333" lengthAdjust="spacing">Weighted vs. Unweighted S&amp;P 500 Index  Long-Term</text>
<text id="copy" x="573.5" y="60.6" text-anchor="end" font-size="10.67px" fill="#000">(c) 2007 DecisionPoint.com</text>
<text x="15.3" y="72.7" class="t" fill="#000" stroke="#000" textLength="109.6" lengthAdjust="spacing">SPX Unweighted Index</text>
<text x="461.3" y="72.7" text-anchor="end" class="t" fill="#000" stroke="#000">2728.90</text>
<text x="497.7" y="72.7" text-anchor="end" class="t" fill="#000" stroke="#000">-17.85</text>
<text x="530.5" y="72.7" text-anchor="end" class="t" fill="#000" stroke="#000">-0.6%</text>
<text x="572.7" y="72.7" text-anchor="end" class="t" fill="#000" stroke="#000">12/4/07</text>
<text x="15.3" y="234.7" class="t" fill="#34109a" stroke="#34109a" textLength="123.3" lengthAdjust="spacing">S&amp;P 500 Large Cap Index</text>
<text x="467.8" y="234.7" text-anchor="end" class="t" fill="#34109a" stroke="#34109a">1462.79</text>
<text x="497.7" y="234.7" text-anchor="end" class="t" fill="#34109a" stroke="#34109a">-9.63</text>
<text x="530.0" y="234.7" text-anchor="end" class="t" fill="#34109a" stroke="#34109a">-0.7%</text>
<text x="573.1" y="234.7" text-anchor="end" class="t" fill="#34109a" stroke="#34109a">12/4/07</text>
<text x="15.3" y="396.7" class="t" fill="#064a16" stroke="#064a16" textLength="235" lengthAdjust="spacing">SPX Unweighted Index/S&amp;P 500 Large Cap Index</text>
<text x="462.2" y="396.7" text-anchor="end" class="t" fill="#064a16" stroke="#064a16">1.87</text>
<text x="495.5" y="396.7" text-anchor="end" class="t" fill="#064a16" stroke="#064a16">+0.00</text>
<text x="529.8" y="396.7" text-anchor="end" class="t" fill="#064a16" stroke="#064a16">+0.0%</text>
<text x="573.1" y="396.7" text-anchor="end" class="t" fill="#064a16" stroke="#064a16">12/4/07</text>
<text x="578" y="81.5" class="t" fill="#000" stroke="#000">3000</text>
<text x="578" y="98.5" class="t" fill="#000" stroke="#000">2750</text>
<text x="578" y="115.5" class="t" fill="#000" stroke="#000">2500</text>
<text x="578" y="133.5" class="t" fill="#000" stroke="#000">2250</text>
<text x="578" y="150.5" class="t" fill="#000" stroke="#000">2000</text>
<text x="578" y="167.5" class="t" fill="#000" stroke="#000">1750</text>
<text x="578" y="185.5" class="t" fill="#000" stroke="#000">1500</text>
<text x="578" y="202.5" class="t" fill="#000" stroke="#000">1250</text>
<text x="578" y="219.5" class="t" fill="#000" stroke="#000">1000</text>
<text x="578" y="252.5" class="t" fill="#34109a" stroke="#34109a">1500</text>
<text x="578" y="271.5" class="t" fill="#34109a" stroke="#34109a">1400</text>
<text x="578" y="289.5" class="t" fill="#34109a" stroke="#34109a">1300</text>
<text x="578" y="307.5" class="t" fill="#34109a" stroke="#34109a">1200</text>
<text x="578" y="325.5" class="t" fill="#34109a" stroke="#34109a">1100</text>
<text x="578" y="344.5" class="t" fill="#34109a" stroke="#34109a">1000</text>
<text x="578" y="362.5" class="t" fill="#34109a" stroke="#34109a">900</text>
<text x="578" y="380.5" class="t" fill="#34109a" stroke="#34109a">800</text>
<text x="578" y="421.5" class="t" fill="#064a16" stroke="#064a16">1.80</text>
<text x="578" y="443.5" class="t" fill="#064a16" stroke="#064a16">1.60</text>
<text x="578" y="464.5" class="t" fill="#064a16" stroke="#064a16">1.40</text>
<text x="578" y="485.5" class="t" fill="#064a16" stroke="#064a16">1.20</text>
<text x="578" y="507.5" class="t" fill="#064a16" stroke="#064a16">1.00</text>
<text x="26.2" y="522.7" text-anchor="middle" class="t" fill="#000" stroke="#000">99</text>
<text x="42.2" y="522.7" text-anchor="middle" class="t" fill="#000" stroke="#000">A</text>
<text x="57.2" y="522.7" text-anchor="middle" class="t" fill="#000" stroke="#000">J</text>
<text x="72.2" y="522.7" text-anchor="middle" class="t" fill="#000" stroke="#000">O</text>
<text x="87.2" y="522.7" text-anchor="middle" class="t" fill="#000" stroke="#000">00</text>
<text x="103.2" y="522.7" text-anchor="middle" class="t" fill="#000" stroke="#000">A</text>
<text x="118.2" y="522.7" text-anchor="middle" class="t" fill="#000" stroke="#000">J</text>
<text x="134.2" y="522.7" text-anchor="middle" class="t" fill="#000" stroke="#000">O</text>
<text x="148.2" y="522.7" text-anchor="middle" class="t" fill="#000" stroke="#000">01</text>
<text x="164.2" y="522.7" text-anchor="middle" class="t" fill="#000" stroke="#000">A</text>
<text x="179.2" y="522.7" text-anchor="middle" class="t" fill="#000" stroke="#000">J</text>
<text x="193.2" y="522.7" text-anchor="middle" class="t" fill="#000" stroke="#000">O</text>
<text x="208.2" y="522.7" text-anchor="middle" class="t" fill="#000" stroke="#000">02</text>
<text x="223.2" y="522.7" text-anchor="middle" class="t" fill="#000" stroke="#000">A</text>
<text x="238.2" y="522.7" text-anchor="middle" class="t" fill="#000" stroke="#000">J</text>
<text x="254.2" y="522.7" text-anchor="middle" class="t" fill="#000" stroke="#000">O</text>
<text x="268.2" y="522.7" text-anchor="middle" class="t" fill="#000" stroke="#000">03</text>
<text x="284.2" y="522.7" text-anchor="middle" class="t" fill="#000" stroke="#000">A</text>
<text x="299.2" y="522.7" text-anchor="middle" class="t" fill="#000" stroke="#000">J</text>
<text x="315.2" y="522.7" text-anchor="middle" class="t" fill="#000" stroke="#000">O</text>
<text x="329.2" y="522.7" text-anchor="middle" class="t" fill="#000" stroke="#000">04</text>
<text x="345.2" y="522.7" text-anchor="middle" class="t" fill="#000" stroke="#000">A</text>
<text x="360.2" y="522.7" text-anchor="middle" class="t" fill="#000" stroke="#000">J</text>
<text x="376.2" y="522.7" text-anchor="middle" class="t" fill="#000" stroke="#000">O</text>
<text x="390.2" y="522.7" text-anchor="middle" class="t" fill="#000" stroke="#000">05</text>
<text x="406.2" y="522.7" text-anchor="middle" class="t" fill="#000" stroke="#000">A</text>
<text x="421.2" y="522.7" text-anchor="middle" class="t" fill="#000" stroke="#000">J</text>
<text x="437.2" y="522.7" text-anchor="middle" class="t" fill="#000" stroke="#000">O</text>
<text x="451.2" y="522.7" text-anchor="middle" class="t" fill="#000" stroke="#000">06</text>
<text x="467.2" y="522.7" text-anchor="middle" class="t" fill="#000" stroke="#000">A</text>
<text x="482.2" y="522.7" text-anchor="middle" class="t" fill="#000" stroke="#000">J</text>
<text x="497.2" y="522.7" text-anchor="middle" class="t" fill="#000" stroke="#000">O</text>
<text x="511.2" y="522.7" text-anchor="middle" class="t" fill="#000" stroke="#000">07</text>
<text x="527.2" y="522.7" text-anchor="middle" class="t" fill="#000" stroke="#000">A</text>
<text x="542.2" y="522.7" text-anchor="middle" class="t" fill="#000" stroke="#000">J</text>
<text x="558.2" y="522.7" text-anchor="middle" class="t" fill="#000" stroke="#000">O</text>
</svg></body></html>
